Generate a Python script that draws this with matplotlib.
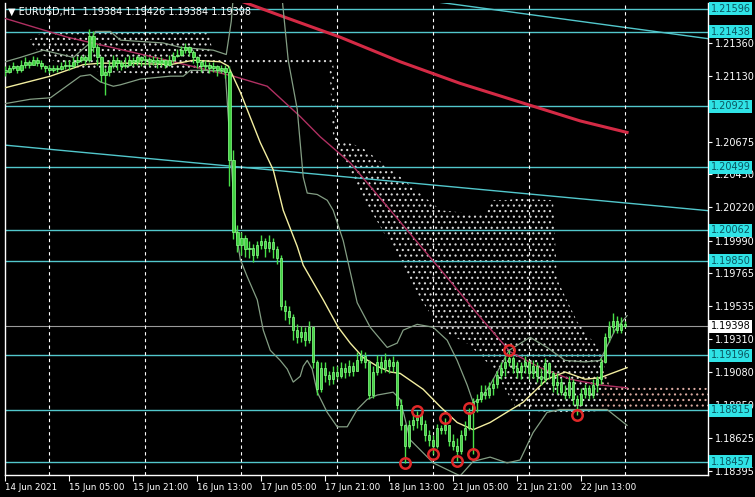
import matplotlib.pyplot as plt
import numpy as np

# EURUSD H1 candles, bar 0 = 14 Jun 2021 13:00 (weekend hours skipped)
open0 = 1.2117
close = [1.2116, 1.2119, 1.2120, 1.2117, 1.2121, 1.2123, 1.2121, 1.2124, 1.2122, 1.2120,
         1.2119, 1.2117, 1.2119, 1.2118, 1.2120, 1.2121, 1.2120, 1.2123, 1.2124, 1.2126,
         1.2124, 1.2141, 1.2133, 1.2126, 1.2114, 1.2116, 1.2120, 1.2124, 1.2122, 1.2120,
         1.2121, 1.2124, 1.2123, 1.2126, 1.2124, 1.2125, 1.2123, 1.2124, 1.2122, 1.2124,
         1.2121, 1.2124, 1.2127, 1.2128, 1.2131, 1.2133, 1.2130, 1.2126, 1.2123, 1.2120,
         1.2121, 1.2119, 1.2120, 1.2117, 1.2119, 1.2116, 1.2055, 1.2005, 1.1996, 1.2001,
         1.1993, 1.1994, 1.1989, 1.1996, 1.1999, 1.1994, 1.1998, 1.1993, 1.1987, 1.1954,
         1.1950, 1.1946, 1.1937, 1.1932, 1.1936, 1.1930, 1.1939, 1.1915, 1.1896, 1.1911,
         1.1906, 1.1903, 1.1908, 1.1905, 1.1911, 1.1908, 1.1912, 1.1909, 1.1916, 1.1919,
         1.1915, 1.1892, 1.1908, 1.1915, 1.1911, 1.1916, 1.1912, 1.1915, 1.1885, 1.1871,
         1.1857, 1.1871, 1.1875, 1.1878, 1.1872, 1.1864, 1.1861, 1.1857, 1.1869, 1.1868,
         1.1871, 1.1860, 1.1857, 1.1853, 1.1864, 1.1869, 1.1880, 1.1887, 1.1889, 1.1894,
         1.1892, 1.1897, 1.1900, 1.1906, 1.1911, 1.1915, 1.1918, 1.1911, 1.1908, 1.1912,
         1.1915, 1.1907, 1.1912, 1.1905, 1.1903, 1.1914, 1.1907, 1.1899, 1.1901, 1.1894,
         1.1892, 1.1901, 1.1889, 1.1885, 1.1893, 1.1897, 1.1892, 1.1899, 1.1903, 1.1915,
         1.1932, 1.1939, 1.1943, 1.1937, 1.1941, 1.19398]
high = [1.2120, 1.2121, 1.2123, 1.2121, 1.2124, 1.2126, 1.2124, 1.2127, 1.2126, 1.2124,
        1.2121, 1.2121, 1.2121, 1.2121, 1.2123, 1.2124, 1.2124, 1.2126, 1.2127, 1.2128,
        1.2128, 1.2146, 1.2144, 1.2135, 1.2127, 1.2119, 1.2124, 1.2128, 1.2126, 1.2124,
        1.2126, 1.2128, 1.2126, 1.2128, 1.2127, 1.2128, 1.2126, 1.2127, 1.2126, 1.2126,
        1.2125, 1.2128, 1.2130, 1.2132, 1.2134, 1.2136, 1.2134, 1.2131, 1.2127, 1.2124,
        1.2124, 1.2123, 1.2123, 1.2121, 1.2121, 1.2121, 1.2120, 1.2062, 1.2010, 1.2005,
        1.2003, 1.1999, 1.1997, 1.1999, 1.2003, 1.2001, 1.2003, 1.2001, 1.1995, 1.1989,
        1.1958, 1.1954, 1.1948, 1.1941, 1.1940, 1.1939, 1.1943, 1.1940, 1.1916, 1.1915,
        1.1915, 1.1909, 1.1912, 1.1912, 1.1915, 1.1914, 1.1916, 1.1915, 1.1922, 1.1923,
        1.1922, 1.1916, 1.1912, 1.1920, 1.1919, 1.1921, 1.1918, 1.1919, 1.1916, 1.1889,
        1.1872, 1.1875, 1.1879, 1.1881, 1.1879, 1.1875, 1.1868, 1.1864, 1.1872, 1.1871,
        1.1876, 1.1871, 1.1865, 1.1862, 1.1868, 1.1874, 1.1883, 1.1890, 1.1893, 1.1899,
        1.1899, 1.1901, 1.1904, 1.1909, 1.1915, 1.1919, 1.1923, 1.1919, 1.1915, 1.1915,
        1.1919, 1.1916, 1.1916, 1.1915, 1.1911, 1.1918, 1.1915, 1.1909, 1.1907, 1.1904,
        1.1899, 1.1905, 1.1903, 1.1892, 1.1897, 1.1900, 1.1899, 1.1903, 1.1905, 1.1918,
        1.1935, 1.1943, 1.1949, 1.1947, 1.1946, 1.1943]
low = [1.2113, 1.2115, 1.2117, 1.2115, 1.2116, 1.2119, 1.2119, 1.2121, 1.2120, 1.2118,
       1.2116, 1.2115, 1.2116, 1.2116, 1.2117, 1.2118, 1.2117, 1.2119, 1.2121, 1.2123,
       1.2121, 1.2123, 1.2130, 1.2121, 1.2109, 1.2100, 1.2113, 1.2119, 1.2117, 1.2117,
       1.2119, 1.2120, 1.2120, 1.2121, 1.2120, 1.2121, 1.2120, 1.2121, 1.2119, 1.2120,
       1.2119, 1.2120, 1.2123, 1.2126, 1.2127, 1.2129, 1.2127, 1.2122, 1.2119, 1.2116,
       1.2117, 1.2115, 1.2116, 1.2113, 1.2115, 1.2112, 1.2037, 1.2000, 1.1991, 1.1989,
       1.1988, 1.1987, 1.1984, 1.1987, 1.1993, 1.1988, 1.1991, 1.1987, 1.1983, 1.1951,
       1.1944, 1.1941, 1.1930, 1.1928, 1.1929, 1.1926, 1.1928, 1.1911, 1.1892, 1.1894,
       1.1901, 1.1899, 1.1900, 1.1903, 1.1904, 1.1904, 1.1905, 1.1905, 1.1909, 1.1914,
       1.1911, 1.1889, 1.1890, 1.1906, 1.1907, 1.1908, 1.1907, 1.1908, 1.1882, 1.1868,
       1.1845, 1.1855, 1.1868, 1.1869, 1.1868, 1.1860, 1.1857, 1.1851, 1.1855, 1.1865,
       1.1865, 1.1857, 1.1854, 1.1846, 1.1851, 1.1861, 1.1868, 1.1851, 1.1880, 1.1887,
       1.1889, 1.1890, 1.1892, 1.1897, 1.1903, 1.1905, 1.1912, 1.1907, 1.1904, 1.1903,
       1.1907, 1.1903, 1.1904, 1.1901, 1.1899, 1.1901, 1.1903, 1.1894, 1.1893, 1.1892,
       1.1889, 1.1890, 1.1885, 1.1878, 1.1886, 1.1890, 1.1889, 1.1890, 1.1894, 1.1900,
       1.1914, 1.1929, 1.1935, 1.1935, 1.1935, 1.1939]

# fractal points marked with red circles
fractal_bars = [100, 103, 107, 110, 113, 116, 117, 126, 143]
fractal_side = ['low', 'high', 'low', 'high', 'low', 'high', 'low', 'high', 'low']

# horizontal levels and trend lines
levels = [1.21596, 1.21438, 1.20921, 1.20499, 1.20062, 1.19850, 1.19196, 1.18815, 1.18457]
trend1_bar = [-1.25, 175.75]
trend1_px = [1.20655, 1.20198]
trend2_bar = [103.75, 175.75]
trend2_px = [1.2166, 1.2139]

# Bollinger bands (vertices)
mid_bar = [0, 11.25, 19.5, 23.75, 30, 41.25, 47, 53.75, 55.75, 58.75, 63.75, 67, 69.5, 73, 74.5,
           79.5, 83.25, 86.25, 89.5, 93, 96.25, 98.75, 104.5, 108.75, 113, 117, 121.25, 129.5,
           135.5, 140, 145, 148.75, 155.5]
mid_px = [1.2105, 1.2113, 1.2121, 1.2122, 1.2122, 1.2121, 1.2124, 1.2123, 1.2120, 1.2102, 1.2067,
          1.2048, 1.2020, 1.1995, 1.1982, 1.1958, 1.1939, 1.1928, 1.1918, 1.1912, 1.1908, 1.1907,
          1.1896, 1.1884, 1.1873, 1.1868, 1.1873, 1.1887, 1.1903, 1.1908, 1.1903, 1.1904, 1.1911]
up_bar = [0, 3.75, 9.5, 17, 20.75, 22.5, 26.25, 28.75, 39.5, 43.75, 52, 55.25, 56.5, 57.75, 63.75,
          68.75, 70.75, 73, 74.5, 75.5, 78, 80.5, 82, 84.5, 88, 91.25, 95.5, 98, 99.5, 103, 107,
          110.5, 113, 115.5, 117, 118.75, 121.25, 126, 131.25, 135.5, 140, 145, 148.75, 152.5, 155.5]
up_px = [1.2123, 1.2126, 1.2131, 1.2126, 1.2135, 1.2144, 1.2144, 1.2138, 1.2136, 1.2133, 1.2131,
         1.2128, 1.2151, 1.2194, 1.2221, 1.2180, 1.2124, 1.2090, 1.2043, 1.2032, 1.2031, 1.2027,
         1.2020, 1.1999, 1.1956, 1.1939, 1.1925, 1.1928, 1.1937, 1.1941, 1.1939, 1.1930, 1.1916,
         1.1899, 1.1887, 1.1889, 1.1899, 1.1923, 1.1932, 1.1925, 1.1916, 1.1915, 1.1916, 1.1937,
         1.1947]
lo_bar = [0, 6.25, 11.25, 18.75, 21.25, 23.75, 27, 28.75, 33.75, 41.25, 44.5, 46.25, 52, 55, 56.75,
          57.5, 58.75, 60.5, 63, 64.5, 66.25, 68.75, 70.5, 72, 73.75, 74.5, 75.5, 76.75, 78, 80.5,
          83, 85.5, 88, 90.5, 93, 97, 98.75, 101.25, 107, 113.75, 117, 121.25, 125.5, 128.75, 132,
          135.5, 138.75, 150.5, 155.5]
lo_px = [1.2094, 1.2097, 1.2098, 1.2113, 1.2114, 1.2109, 1.2106, 1.2107, 1.2111, 1.2113, 1.2113,
         1.2117, 1.2117, 1.2116, 1.2043, 1.2009, 1.1986, 1.1974, 1.1958, 1.1937, 1.1923, 1.1916,
         1.1910, 1.1901, 1.1905, 1.1912, 1.1916, 1.1910, 1.1894, 1.1880, 1.1870, 1.1870, 1.1882,
         1.1889, 1.1892, 1.1894, 1.1889, 1.1861, 1.1845, 1.1836, 1.1846, 1.1849, 1.1845, 1.1847,
         1.1866, 1.1880, 1.1882, 1.1882, 1.1871]

# moving averages
ma_pink_bar = [-1.25, 15.5, 40.5, 57, 65.5, 73.75, 78.75, 86.25, 98.75, 111.25, 118.75, 126.25,
               133.75, 141.25, 148.75, 155.5]
ma_pink_px = [1.2154, 1.2140, 1.2124, 1.2113, 1.2106, 1.2085, 1.2071, 1.2053, 1.2012, 1.1971,
              1.1946, 1.1922, 1.1911, 1.1903, 1.1899, 1.1897]
ma_red_bar = [53.75, 58, 68.75, 83.75, 98.75, 113.75, 128.75, 143.75, 155.5]
ma_red_px = [1.2172, 1.2166, 1.2155, 1.2140, 1.2123, 1.2108, 1.2095, 1.2082, 1.2074]

# Ichimoku cloud edges
cloud_bar = [6, 9, 14, 24, 39, 51, 52, 81, 82, 83, 89, 98, 104, 109, 116, 120, 122, 125, 128,
             137, 138, 143, 149, 151, 176]
cloud_top = [1.2138, 1.2143, 1.2143, 1.2143, 1.2143, 1.2143, 1.2126, 1.2126, 1.2123, 1.2069,
             1.2064, 1.2045, 1.2031, 1.2020, 1.2018, 1.2017, 1.2027, 1.2027, 1.2028, 1.2027,
             1.1972, 1.1943, 1.1922, 1.1899, 1.1897]
cloud_bot = [1.2137, 1.2128, 1.2121, 1.2116, 1.2114, 1.2113, 1.2122, 1.2122, 1.2069, 1.2062,
             1.2031, 1.1989, 1.1958, 1.1937, 1.1927, 1.1916, 1.1911, 1.1896, 1.1882, 1.1880,
             1.1880, 1.1880, 1.1881, 1.1881, 1.1884]

tick_bars = [0, 16, 32, 48, 64, 80, 96, 112, 128, 144]
tick_labels = ['14 Jun 2021', '15 Jun 05:00', '15 Jun 21:00', '16 Jun 13:00', '17 Jun 05:00',
               '17 Jun 21:00', '18 Jun 13:00', '21 Jun 05:00', '21 Jun 21:00', '22 Jun 13:00']
day_bars = [11, 35, 59, 83, 107, 131, 155]
price_ticks = [1.21360, 1.21130, 1.20675, 1.20450, 1.20220, 1.19990, 1.19765,
               1.19535, 1.19310, 1.19080, 1.18850, 1.18625, 1.18395]

plt.rcParams['hatch.linewidth'] = 0.8
fig = plt.figure(figsize=(7.55, 4.97), dpi=100, facecolor='black')
ax = fig.add_axes([5 / 755, 22 / 497, 703 / 755, 472 / 497])
ax.set_facecolor('black')

# cloud
cb = np.array(cloud_bar)
ct = np.array(cloud_top)
cbo = np.array(cloud_bot)
k = cloud_bar.index(149)
ax.fill_between(cb[:k + 1], ct[:k + 1], cbo[:k + 1], facecolor='none', edgecolor='#d8d8d8',
                hatch='...', linewidth=0, zorder=1)
ax.fill_between(cb[k:], ct[k:], cbo[k:], facecolor='none', edgecolor='#d9a9a0',
                hatch='...', linewidth=0, zorder=1)

# levels
for lv in levels:
    ax.axhline(lv, color='#52c7cc', lw=1, zorder=2)
    ax.text(1.004, lv, '%.5f' % lv, transform=ax.get_yaxis_transform(), fontsize=7,
            color='#0b5560', va='center', ha='left', zorder=6, clip_on=False,
            bbox=dict(boxstyle='square,pad=0.15', fc='#2fe3e6', ec='none'))
ax.plot(trend1_bar, trend1_px, color='#52c7cc', lw=1, zorder=2)
ax.plot(trend2_bar, trend2_px, color='#52c7cc', lw=1, zorder=2)

last = close[-1]
ax.axhline(last, color='#9a9a9a', lw=0.8, zorder=2)
ax.text(1.004, last, '%.5f' % last, transform=ax.get_yaxis_transform(), fontsize=7,
        color='black', va='center', ha='left', zorder=6, clip_on=False,
        bbox=dict(boxstyle='square,pad=0.15', fc='white', ec='none'))

for d in day_bars:
    ax.axvline(d, color='white', lw=0.8, linestyle=(0, (3, 3)), zorder=2)

# indicators
ax.plot(ma_red_bar, ma_red_px, color='#d42a45', lw=2.2, zorder=3)
ax.plot(ma_pink_bar, ma_pink_px, color='#b03062', lw=1, zorder=3)
ax.plot(up_bar, up_px, color='#849e84', lw=0.9, zorder=3)
ax.plot(lo_bar, lo_px, color='#849e84', lw=0.9, zorder=3)
ax.plot(mid_bar, mid_px, color='#f3eea0', lw=1, zorder=3)

# candles
x = np.arange(len(close))
c = np.array(close)
o = np.array([open0] + close[:-1])
ax.vlines(x, low, high, color='#48e048', lw=1, zorder=4)
ax.bar(x, np.abs(c - o), bottom=np.minimum(o, c), width=0.62, color='#3fd23f',
       edgecolor='#8cff8c', linewidth=0.5, zorder=4)

# fractals
fy = [low[b] if s == 'low' else high[b] for b, s in zip(fractal_bars, fractal_side)]
ax.plot(fractal_bars, fy, 'o', mfc='none', mec='#e02828', ms=7.5, mew=1.8, zorder=5)

ax.set_xlim(-0.1, 175.75)
ax.set_ylim(1.18366, 1.21637)

ax.yaxis.tick_right()
ax.set_yticks(price_ticks)
ax.set_yticklabels(['%.5f' % t for t in price_ticks])
ax.set_xticks(tick_bars)
ax.set_xticklabels(tick_labels, ha='left')
ax.tick_params(colors='white', labelsize=7, length=3, pad=2, width=0.8)
ax.tick_params(axis='x', labelsize=6.3, length=4)
for s in ['left', 'bottom', 'right']:
    ax.spines[s].set_color('white')
    ax.spines[s].set_linewidth(1)
ax.spines['top'].set_visible(False)

fig.text(8 / 755, 1 - 12 / 497, '\u25bc EURUSD,H1  1.19384 1.19426 1.19384 1.19398',
         color='white', fontsize=7, va='center')

fig.savefig('out.png', dpi=100, facecolor='black')
